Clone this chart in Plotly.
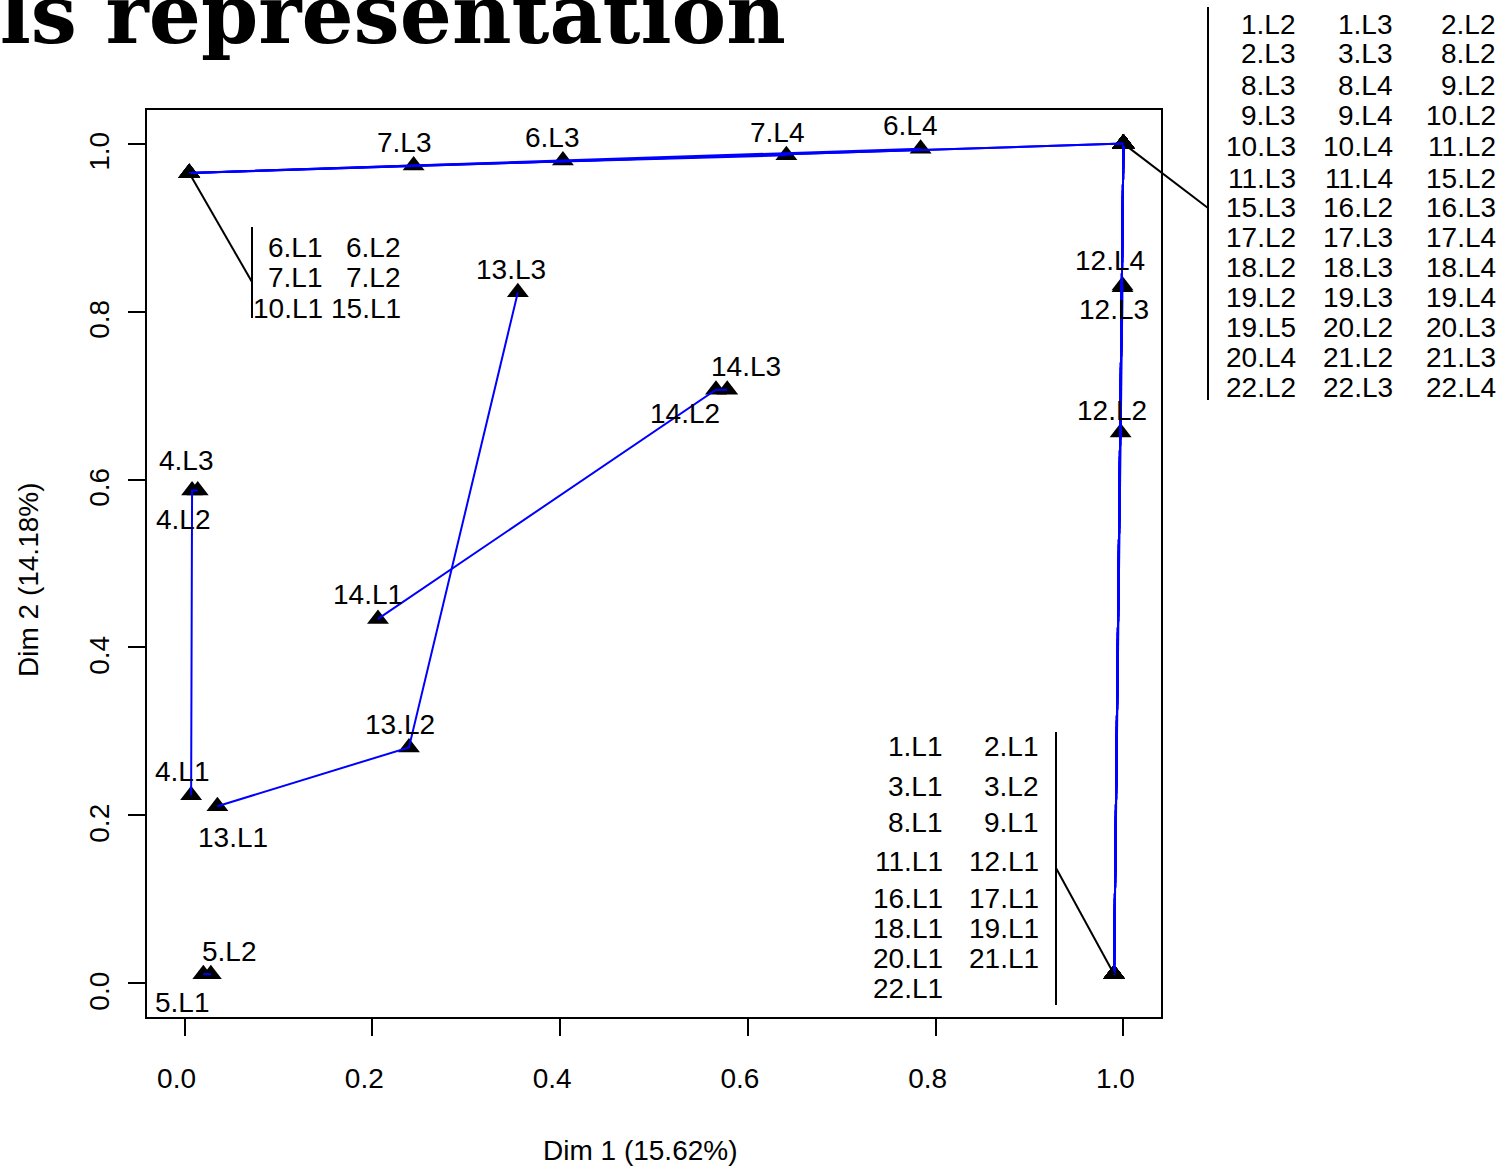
import plotly.graph_objects as go

# ---------------- data ----------------
point_labels = ["4.L1", "4.L2", "4.L3", "5.L1", "5.L2", "6.L3", "6.L4", "7.L3", "7.L4",
                "12.L2", "12.L3", "12.L4", "13.L1", "13.L2", "13.L3", "14.L1", "14.L2", "14.L3"]
point_dim1 = [0.007, 0.008, 0.014, 0.020, 0.028, 0.403, 0.784, 0.244, 0.641,
              0.997, 0.999, 0.999, 0.035, 0.239, 0.355, 0.206, 0.566, 0.578]
point_dim2 = [0.224, 0.587, 0.587, 0.011, 0.011, 0.980, 0.994, 0.974, 0.986,
              0.656, 0.829, 0.831, 0.211, 0.281, 0.823, 0.434, 0.707, 0.707]

group_tl_labels = ["6.L1", "6.L2", "7.L1", "7.L2", "10.L1", "15.L1"]
group_br_labels = ["1.L1", "2.L1", "3.L1", "3.L2", "8.L1", "9.L1", "11.L1", "12.L1",
                   "16.L1", "17.L1", "18.L1", "19.L1", "20.L1", "21.L1", "22.L1"]
group_tr_labels = ["1.L2", "1.L3", "2.L2", "2.L3", "3.L3", "8.L2", "8.L3", "8.L4", "9.L2",
                   "9.L3", "9.L4", "10.L2", "10.L3", "10.L4", "11.L2", "11.L3", "11.L4",
                   "15.L2", "15.L3", "16.L2", "16.L3", "17.L2", "17.L3", "17.L4", "18.L2",
                   "18.L3", "18.L4", "19.L2", "19.L3", "19.L4", "19.L5", "20.L2", "20.L3",
                   "20.L4", "21.L2", "21.L3", "22.L2", "22.L3", "22.L4"]
group_dim1 = [0.005, 0.990, 1.000]   # tl, br, tr
group_dim2 = [0.965, 0.011, 1.000]

x_ticks = [0.0, 0.2, 0.4, 0.6, 0.8, 1.0]
y_ticks = [0.0, 0.2, 0.4, 0.6, 0.8, 1.0]
x_title = "Dim 1 (15.62%)"
y_title = "Dim 2 (14.18%)"
main_title = "Levels representation"

# ---------------- build category table ----------------
coords = {}
for n, x, y in zip(point_labels, point_dim1, point_dim2):
    coords[n] = (x, y)
for labels, gx, gy in zip([group_tl_labels, group_br_labels, group_tr_labels], group_dim1, group_dim2):
    for n in labels:
        coords[n] = (gx, gy)

# ---------------- layout geometry ----------------
W, H = 1510, 1168
L, R, T, B = 147, 1161, 110, 1017
XR = [-0.04, 1.04]
YR = [-0.04, 1.04]


def pxx(p):
    return (p - L) / (R - L)


def pxy(p):
    return (B - p) / (B - T)


def dx2p(x):
    return (x - XR[0]) / (XR[1] - XR[0])


def dy2p(y):
    return (y - YR[0]) / (YR[1] - YR[0])


FONT = "Liberation Sans, Arial, sans-serif"
FS = 28

fig = go.Figure()

# markers
names = list(coords.keys())
fig.add_trace(go.Scatter(
    x=[coords[n][0] for n in names], y=[coords[n][1] for n in names],
    mode="markers", marker=dict(symbol="triangle-up", size=19, color="black", line=dict(width=0)),
    hoverinfo="text", text=names, showlegend=False, cliponaxis=False))

# trajectories: connect levels of the same variable
variables = {}
for n in names:
    v, lev = n.split(".L")
    variables.setdefault(int(v), []).append((int(lev), n))
lx, ly = [], []
for v in sorted(variables):
    levs = sorted(variables[v])
    if len(levs) < 2:
        continue
    for _, n in levs:
        lx.append(coords[n][0])
        ly.append(coords[n][1])
    lx.append(None)
    ly.append(None)
fig.add_trace(go.Scatter(x=lx, y=ly, mode="lines", line=dict(color="#0000ff", width=2),
                         hoverinfo="skip", showlegend=False))

annotations = []
# individual point labels (pixel offsets from their point)
label_offsets = {
    "7.L3": (-9, -23), "6.L3": (-10, -23), "7.L4": (-9, -23), "6.L4": (-10, -23),
    "13.L3": (-7, -23), "14.L3": (19, -23), "14.L2": (-31, 24), "12.L4": (-13, -25),
    "12.L3": (-9, 22), "12.L2": (-9, -22), "4.L3": (-11, -30), "4.L2": (-9, 29),
    "14.L1": (-10, -24), "13.L2": (-9, -23), "4.L1": (-9, -24), "13.L1": (16, 31),
    "5.L2": (19, -23), "5.L1": (-21, 28),
}
for n in point_labels:
    dx, dy = label_offsets[n]
    annotations.append(dict(x=coords[n][0], y=coords[n][1], xref="x", yref="y", text=n,
                            showarrow=False, xshift=dx, yshift=-dy, xanchor="center",
                            yanchor="middle", font=dict(family=FONT, size=FS, color="black")))


def block(labels, ncol, col_right, row_y):
    for i, n in enumerate(labels):
        r, c = divmod(i, ncol)
        annotations.append(dict(x=pxx(col_right[c]), y=pxy(row_y[r]), xref="paper", yref="paper",
                                text=n, showarrow=False, xanchor="right", yanchor="middle",
                                font=dict(family=FONT, size=FS, color="black")))


block(group_tl_labels, 2, [325, 403], [247, 277, 308])
block(group_br_labels, 2, [945, 1041], [747, 786, 822, 861, 898, 928, 958, 988])
block(group_tr_labels, 3, [1298, 1395, 1498],
      [24, 54, 85, 115, 146, 178, 208, 237, 267, 297, 327, 357, 387])

# axis titles
annotations.append(dict(x=pxx(640), y=pxy(1150), xref="paper", yref="paper", text=x_title,
                        showarrow=False, xanchor="center", yanchor="middle",
                        font=dict(family=FONT, size=FS, color="black")))
annotations.append(dict(x=pxx(28), y=pxy(580), xref="paper", yref="paper", text=y_title,
                        showarrow=False, xanchor="center", yanchor="middle", textangle=-90,
                        font=dict(family=FONT, size=FS, color="black")))
# main title (cropped by page edge as in the reference)
annotations.append(dict(x=pxx(788), y=pxy(64), xref="paper", yref="paper", text=main_title,
                        showarrow=False, xanchor="right", yanchor="bottom",
                        font=dict(family="DejaVu Serif", size=82, color="black", weight="bold")))

# leader lines and brackets
shapes = []
lk = dict(color="black", width=2)


def seg(x0, y0, x1, y1):
    shapes.append(dict(type="line", xref="paper", yref="paper", x0=x0, y0=y0, x1=x1, y1=y1, line=lk))


# top-left group
seg(pxx(252), pxy(227), pxx(252), pxy(318))
seg(pxx(252), pxy(282), dx2p(group_dim1[0]), dy2p(group_dim2[0]))
# bottom-right group
seg(pxx(1056), pxy(732), pxx(1056), pxy(1005))
seg(pxx(1056), pxy(868), dx2p(group_dim1[1]), dy2p(group_dim2[1]))
# top-right group
seg(pxx(1208), pxy(7), pxx(1208), pxy(400))
seg(pxx(1208), pxy(208), dx2p(group_dim1[2]), dy2p(group_dim2[2]))

axis_common = dict(showgrid=False, zeroline=False, showline=True, mirror=True, linecolor="black",
                   linewidth=2, ticks="outside", ticklen=17, tickwidth=2, tickcolor="black",
                   tickfont=dict(family=FONT, size=FS, color="black"))

fig.update_layout(
    width=W, height=H, autosize=False,
    margin=dict(l=L, r=W - R, t=T, b=H - B, pad=0),
    paper_bgcolor="white", plot_bgcolor="white",
    xaxis=dict(range=XR, tickvals=x_ticks, ticktext=["%.1f" % v for v in x_ticks],
               ticklabelstandoff=18, ticklabelshift=-8, **axis_common),
    yaxis=dict(range=YR, tickvals=y_ticks, ticktext=["%.1f" % v for v in y_ticks],
               tickangle=-90, ticklabelstandoff=8, ticklabelshift=12, **axis_common),
    annotations=annotations, shapes=shapes,
)

fig.write_html("out.html")
